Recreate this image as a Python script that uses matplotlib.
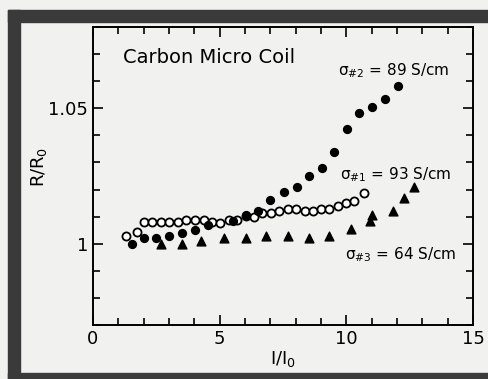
import matplotlib
matplotlib.use('Agg')
import matplotlib.pyplot as plt
from matplotlib.patches import Rectangle
from matplotlib.ticker import MultipleLocator

plt.rcParams['font.family'] = ['DejaVu Sans']

# sigma#2 = 89 S/cm (filled circles)
x2 = [1.55, 2.0, 2.5, 3.0, 3.5, 4.03, 4.54, 5.52, 6.05, 6.51, 7.0, 7.52, 8.06,
      8.52, 9.03, 9.53, 10.01, 10.49, 11.0, 11.52, 12.02]
y2 = [1.000, 1.002, 1.002, 1.003, 1.004, 1.005, 1.007, 1.0085, 1.0107, 1.012,
      1.016, 1.019, 1.021, 1.025, 1.028, 1.034, 1.0425, 1.0484, 1.0505, 1.0533, 1.0584]

# sigma#1 = 93 S/cm (open circles)
x1 = [1.3, 1.72, 2.0, 2.33, 2.68, 3.0, 3.35, 3.69, 4.03, 4.37, 4.7, 5.0, 5.37,
      5.7, 6.05, 6.35, 6.68, 7.03, 7.36, 7.69, 8.02, 8.35, 8.67, 9.0, 9.33,
      9.66, 9.99, 10.31, 10.71]
y1 = [1.003, 1.0043, 1.008, 1.008, 1.008, 1.008, 1.008, 1.0089, 1.0089, 1.0089,
      1.008, 1.0075, 1.0089, 1.0089, 1.0104, 1.010, 1.0114, 1.0114, 1.012,
      1.0127, 1.0127, 1.012, 1.012, 1.0128, 1.0128, 1.014, 1.015, 1.0158, 1.0189]

# sigma#3 = 64 S/cm (triangles)
x3 = [2.7, 3.52, 4.28, 5.17, 6.02, 6.84, 7.69, 8.52, 9.33, 10.18, 10.93, 11.0,
      11.86, 12.26, 12.68]
y3 = [1.000, 1.000, 1.001, 1.002, 1.002, 1.003, 1.003, 1.002, 1.003, 1.0054,
      1.0085, 1.0107, 1.0122, 1.017, 1.021]

bg = '#f1f1ef'
fig = plt.figure(figsize=(4.89, 3.79), dpi=100, facecolor=bg)

# scanned page frame
frame = '#3a3a3a'
fig.patches.append(Rectangle((8 / 489, 0), 12 / 489, 1 - 10 / 379,
                             transform=fig.transFigure, color=frame, zorder=0))
fig.patches.append(Rectangle((8 / 489, 1 - 22 / 379), 1, 12 / 379,
                             transform=fig.transFigure, color=frame, zorder=0))
fig.patches.append(Rectangle((8 / 489, 0), 1, 6 / 379,
                             transform=fig.transFigure, color=frame, zorder=0))

ax = fig.add_axes([93 / 489, 1 - 325 / 379, 380 / 489, 298 / 379])
ax.set_facecolor(bg)

ax.scatter(x1, y1, s=34, facecolors='white', edgecolors='black', linewidths=1.3, zorder=3)
ax.scatter(x2, y2, s=32, color='black', zorder=4)
ax.scatter(x3, y3, s=40, marker='^', color='black', zorder=4)

ax.set_xlim(0, 15)
ax.set_ylim(0.97, 1.08)
ax.set_xticks([0, 5, 10, 15])
ax.set_yticks([1.0, 1.05])
ax.set_yticklabels(['1', '1.05'])
ax.xaxis.set_minor_locator(MultipleLocator(1))
ax.yaxis.set_minor_locator(MultipleLocator(0.01))
ax.tick_params(which='both', direction='in', top=True, right=True, width=1.2,
               labelsize=13)
ax.tick_params(which='major', length=7)
ax.tick_params(which='minor', length=5)
for sp in ax.spines.values():
    sp.set_linewidth(1.4)

ax.set_xlabel('I/I$_0$', fontsize=13, labelpad=1)
ax.set_ylabel('R/R$_0$', fontsize=13)
ax.yaxis.set_label_coords(-0.115, 0.53)

ax.text(0.08, 0.898, 'Carbon Micro Coil', transform=ax.transAxes, fontsize=14,
        va='center', ha='left')
ax.text(9.67, 1.0638, 'σ$_{\\#2}$ = 89 S/cm', fontsize=11, va='center', ha='left')
ax.text(9.75, 1.0256, 'σ$_{\\#1}$ = 93 S/cm', fontsize=11, va='center', ha='left')
ax.text(9.95, 0.9959, 'σ$_{\\#3}$ = 64 S/cm', fontsize=11, va='center', ha='left')

fig.savefig('out.png', dpi=100, facecolor=bg)
